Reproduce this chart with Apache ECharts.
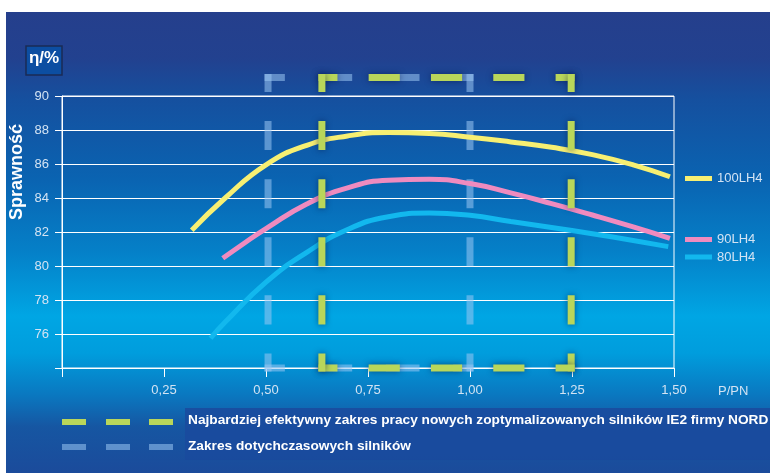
<!DOCTYPE html>
<html>
<head>
<meta charset="utf-8">
<script src="https://cdn.jsdelivr.net/npm/echarts@6/dist/echarts.min.js"></script>
<style>
html,body{margin:0;padding:0;background:#fff;}
#chart{width:770px;height:473px;}
</style>
</head>
<body>
<div id="chart"></div>
<script>
// ---- data ----
var xTicks = [0, 0.25, 0.5, 0.75, 1.0, 1.25, 1.5];
var yTicks = [74, 76, 78, 80, 82, 84, 86, 88, 90];

var load100 = [0.318, 0.40, 0.50, 0.60, 0.70, 0.80, 0.90, 1.00, 1.10, 1.20, 1.30, 1.40, 1.49];
var eff100  = [82.1, 84.0, 85.95, 87.1, 87.65, 87.85, 87.8, 87.58, 87.3, 86.98, 86.55, 85.95, 85.25];

var load90 = [0.394, 0.45, 0.50, 0.60, 0.70, 0.80, 0.90, 1.00, 1.10, 1.20, 1.30, 1.40, 1.49];
var eff90  = [80.45, 81.4, 82.2, 83.65, 84.6, 85.05, 85.1, 84.85, 84.3, 83.67, 83.0, 82.3, 81.63];

var load80 = [0.364, 0.40, 0.50, 0.60, 0.70, 0.80, 0.90, 1.00, 1.10, 1.20, 1.30, 1.40, 1.486];
var eff80  = [75.75, 76.7, 79.05, 80.8, 82.15, 82.9, 83.12, 82.98, 82.62, 82.27, 81.9, 81.5, 81.14];

// ranges: [loadFrom, loadTo, effFrom, effTo]
var rangeNew = [0.637, 1.248, 74, 91.09];
var rangeOld = [0.505, 1.0, 74, 91.09];

var seriesNames = ['100LH4', '90LH4', '80LH4'];
var legendNew = 'Najbardziej efektywny zakres pracy nowych zoptymalizowanych silników IE2 firmy NORD';
var legendOld = 'Zakres dotychczasowych silników';

// ---- helpers ----
function pairs(xs, ys) { return xs.map(function (x, i) { return [x, ys[i]]; }); }

var DASH_W = 7;
function dashedRect(params, api) {
  var x0 = api.value(0), x1 = api.value(1), y0 = api.value(2), y1 = api.value(3);
  var TL = api.coord([x0, y1]), TR = api.coord([x1, y1]);
  var BL = api.coord([x0, y0]), BR = api.coord([x1, y0]);
  var color = api.visual('color');
  var sides = [[TL, TR], [TR, BR], [BL, BR], [TL, BL]];
  var w = DASH_W;
  var children = sides.map(function (s) {
    var a = s[0], b = s[1];
    var dx = b[0] - a[0], dy = b[1] - a[1];
    var L = Math.sqrt(dx * dx + dy * dy);
    var ux = dx / L, uy = dy / L;
    var n = Math.max(1, Math.round(L / 62));
    var p = L / n;
    return {
      type: 'line',
      shape: { x1: a[0] - ux * w / 2, y1: a[1] - uy * w / 2, x2: b[0] + ux * w / 2, y2: b[1] + uy * w / 2 },
      style: {
        stroke: color, lineWidth: w, lineCap: 'butt',
        lineDash: [p / 2, p / 2], lineDashOffset: p / 4 - w / 2,
        shadowBlur: params.seriesIndex === 4 ? 6 : 0,
        shadowColor: 'rgba(0,20,70,0.55)'
      }
    };
  });
  return { type: 'group', children: children };
}

var chart = echarts.init(document.getElementById('chart'));
var lblColor = '#d3e3f3';
var font = 'Liberation Sans, Arial, sans-serif';

function curve(name, data, color) {
  return {
    type: 'line', name: name, data: data, smooth: 0.5, symbol: 'none', z: 2,
    lineStyle: { color: color, width: 5, cap: 'butt' }, itemStyle: { color: color }
  };
}

var option = {
  backgroundColor: '#ffffff',
  animation: false,
  grid: { left: 62, right: 96, top: 96, bottom: 105, show: true, borderColor: '#ffffff', borderWidth: 1, backgroundColor: 'transparent' },
  xAxis: {
    type: 'value', min: xTicks[0], max: xTicks[xTicks.length - 1], interval: 0.25,
    axisLine: { show: true, lineStyle: { color: '#ffffff', width: 1 } },
    axisTick: { show: true, length: 9, lineStyle: { color: '#ffffff' } },
    splitLine: { show: false },
    axisLabel: {
      color: lblColor, fontSize: 13, fontFamily: font, margin: 16,
      formatter: function (v) { return v === 0 ? '' : v.toFixed(2).replace('.', ','); }
    }
  },
  yAxis: {
    type: 'value', min: yTicks[0], max: yTicks[yTicks.length - 1], interval: 2,
    axisLine: { show: true, lineStyle: { color: '#ffffff', width: 1 } },
    axisTick: { show: true, length: 7, lineStyle: { color: '#ffffff' } },
    splitLine: { show: true, lineStyle: { color: '#ffffff', width: 1 } },
    axisLabel: {
      color: lblColor, fontSize: 13, fontFamily: font, margin: 13,
      formatter: function (v) { return v === yTicks[0] ? '' : String(v); }
    }
  },
  legend: [
    { data: [seriesNames[0]], left: 685, top: 172 },
    { data: [seriesNames[1]], left: 685, top: 233 },
    { data: [seriesNames[2]], left: 685, top: 250.5 }
  ].map(function (l) {
    return Object.assign(l, {
      icon: 'rect', itemWidth: 27, itemHeight: 5, itemGap: 0, padding: 0,
      selectedMode: false,
      textStyle: { color: lblColor, fontSize: 13, fontFamily: font, padding: [0, 0, 0, 0] }
    });
  }),
  series: [
    {
      type: 'custom', name: 'old', renderItem: dashedRect, clip: false, z: 1, silent: true,
      itemStyle: { color: 'rgba(155,198,243,0.55)' },
      data: [rangeOld]
    },
    curve(seriesNames[0], pairs(load100, eff100), '#f7ef72'),
    curve(seriesNames[1], pairs(load90, eff90), '#ef8bbf'),
    curve(seriesNames[2], pairs(load80, eff80), '#12b8ee'),
    {
      type: 'custom', name: 'new', renderItem: dashedRect, clip: false, z: 3, silent: true,
      itemStyle: { color: '#b9d65a' },
      data: [rangeNew]
    }
  ],
  graphic: [
    {
      type: 'rect', z: -100, silent: true,
      shape: { x: 6, y: 12, width: 764, height: 461 },
      style: {
        fill: new echarts.graphic.LinearGradient(0, 0, 0, 1, [
          { offset: 0.00, color: '#253f8c' },
          { offset: 0.10, color: '#22418f' },
          { offset: 0.19, color: '#15509f' },
          { offset: 0.36, color: '#0a63b1' },
          { offset: 0.52, color: '#0580c8' },
          { offset: 0.66, color: '#00a6e4' },
          { offset: 0.74, color: '#009ddd' },
          { offset: 0.83, color: '#0a78c0' },
          { offset: 0.90, color: '#1656a2' },
          { offset: 1.00, color: '#1b4b9b' }
        ])
      }
    },
    {
      type: 'rect', z: -99, silent: true,
      shape: { x: 185, y: 408, width: 585, height: 52 },
      style: { fill: 'rgba(26,74,158,0.85)' }
    },
    {
      type: 'rect', z: 10, silent: true,
      shape: { x: 26, y: 46, width: 36, height: 29 },
      style: { fill: '#0c4ea2', stroke: '#1a2b55', lineWidth: 1.5 }
    },
    {
      type: 'text', z: 11, silent: true, x: 44, y: 58,
      style: { text: 'η/%', fill: '#ffffff', font: 'bold 17px ' + font, align: 'center', verticalAlign: 'middle' }
    },
    {
      type: 'text', z: 11, silent: true, x: 17, y: 172, rotation: Math.PI / 2,
      style: { text: 'Sprawność', fill: '#ffffff', font: 'bold 18px ' + font, align: 'center', verticalAlign: 'middle' }
    },
    {
      type: 'text', z: 11, silent: true, x: 718, y: 391.5,
      style: { text: 'P/PN', fill: lblColor, font: '13px ' + font, align: 'left', verticalAlign: 'middle' }
    },
    // bottom legend
    { type: 'rect', z: 11, silent: true, shape: { x: 62, y: 419, width: 24, height: 6 }, style: { fill: '#b9d65a' } },
    { type: 'rect', z: 11, silent: true, shape: { x: 106, y: 419, width: 24, height: 6 }, style: { fill: '#b9d65a' } },
    { type: 'rect', z: 11, silent: true, shape: { x: 149, y: 419, width: 24, height: 6 }, style: { fill: '#b9d65a' } },
    { type: 'rect', z: 11, silent: true, shape: { x: 62, y: 444, width: 24, height: 6 }, style: { fill: 'rgba(155,198,243,0.55)' } },
    { type: 'rect', z: 11, silent: true, shape: { x: 106, y: 444, width: 24, height: 6 }, style: { fill: 'rgba(155,198,243,0.55)' } },
    { type: 'rect', z: 11, silent: true, shape: { x: 149, y: 444, width: 24, height: 6 }, style: { fill: 'rgba(155,198,243,0.55)' } },
    {
      type: 'text', z: 11, silent: true, x: 188, y: 420,
      style: { text: legendNew, fill: '#ffffff', font: 'bold 13.7px ' + font, align: 'left', verticalAlign: 'middle' }
    },
    {
      type: 'text', z: 11, silent: true, x: 188, y: 446,
      style: { text: legendOld, fill: '#ffffff', font: 'bold 13.7px ' + font, align: 'left', verticalAlign: 'middle' }
    }
  ]
};
chart.setOption(option);
</script>
</body>
</html>
